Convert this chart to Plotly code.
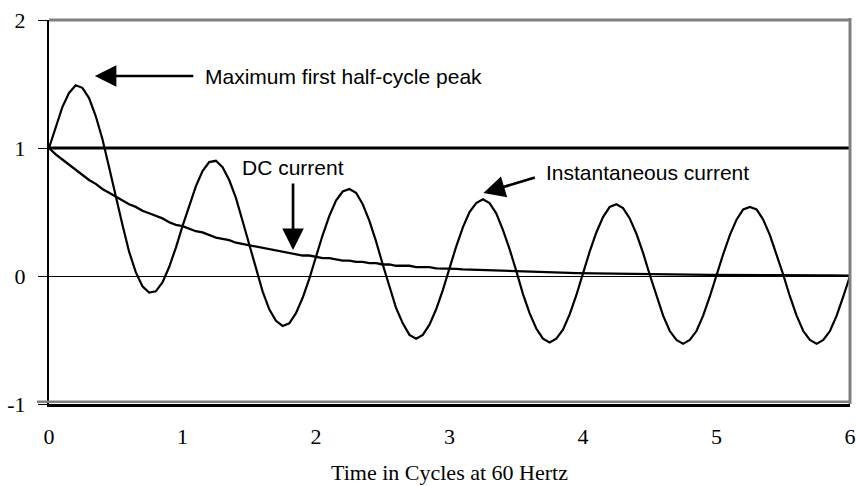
import plotly.graph_objects as go

# Time axis, in cycles (sampled every 1/20 cycle)
cycles = [round(k * 0.05, 2) for k in range(121)]

# Instantaneous current (per unit)
instantaneous = [
    1.00, 1.17, 1.32, 1.43, 1.49, 1.47, 1.39, 1.25, 1.07, 0.85,
    0.62, 0.40, 0.19, 0.03, -0.08, -0.13, -0.12, -0.05, 0.07, 0.22,
    0.39, 0.55, 0.70, 0.82, 0.89, 0.90, 0.85, 0.75, 0.61, 0.43,
    0.24, 0.05, -0.12, -0.26, -0.35, -0.39, -0.37, -0.29, -0.17, -0.02,
    0.15, 0.32, 0.47, 0.59, 0.66, 0.68, 0.65, 0.56, 0.43, 0.27,
    0.09, -0.09, -0.25, -0.37, -0.46, -0.49, -0.46, -0.38, -0.26, -0.11,
    0.06, 0.23, 0.38, 0.50, 0.57, 0.60, 0.57, 0.49, 0.36, 0.21,
    0.04, -0.14, -0.29, -0.41, -0.49, -0.52, -0.49, -0.42, -0.30, -0.15,
    0.02, 0.19, 0.34, 0.46, 0.54, 0.56, 0.53, 0.45, 0.33, 0.18,
    0.01, -0.15, -0.31, -0.43, -0.50, -0.53, -0.50, -0.43, -0.31, -0.16,
    0.01, 0.17, 0.32, 0.44, 0.52, 0.54, 0.52, 0.44, 0.32, 0.17,
    0.01, -0.16, -0.31, -0.43, -0.50, -0.53, -0.50, -0.43, -0.31, -0.16,
    0.00,
]

# DC offset component
dc_current = [
    1.00, 0.95, 0.91, 0.87, 0.83, 0.79, 0.75, 0.72, 0.68, 0.65,
    0.62, 0.59, 0.56, 0.54, 0.51, 0.49, 0.47, 0.45, 0.42, 0.40,
    0.39, 0.37, 0.35, 0.34, 0.32, 0.30, 0.29, 0.28, 0.26, 0.25,
    0.24, 0.23, 0.22, 0.21, 0.20, 0.19, 0.18, 0.17, 0.16, 0.16,
    0.15, 0.14, 0.14, 0.13, 0.12, 0.12, 0.11, 0.11, 0.10, 0.10,
    0.09, 0.09, 0.08, 0.08, 0.08, 0.07, 0.07, 0.07, 0.06, 0.06,
    0.06, 0.055, 0.052, 0.050, 0.048, 0.045, 0.043, 0.041, 0.039, 0.037,
    0.036, 0.034, 0.032, 0.031, 0.030, 0.028, 0.027, 0.026, 0.024, 0.023,
    0.022, 0.021, 0.020, 0.019, 0.018, 0.018, 0.017, 0.016, 0.015, 0.015,
    0.014, 0.013, 0.013, 0.012, 0.011, 0.011, 0.010, 0.010, 0.009, 0.009,
    0.009, 0.008, 0.008, 0.008, 0.007, 0.007, 0.007, 0.006, 0.006, 0.006,
    0.005, 0.005, 0.005, 0.005, 0.004, 0.004, 0.004, 0.004, 0.004, 0.004,
    0.003,
]

# Reference level at 1.0 per unit
ref_x = [0, 6]
ref_level = [1, 1]

x_ticks = [0, 1, 2, 3, 4, 5, 6]
y_ticks = [-1, 0, 1, 2]
y_tick_text = ["-1", "0", "1", "2"]

SANS = "Arial, Liberation Sans, sans-serif"
SERIF = "Times New Roman, Liberation Serif, serif"

fig = go.Figure()

fig.add_trace(go.Scatter(x=ref_x, y=ref_level, mode="lines",
                         line=dict(color="black", width=3.2), hoverinfo="skip"))
fig.add_trace(go.Scatter(x=cycles, y=dc_current, mode="lines", name="DC current",
                         line=dict(color="black", width=2.3)))
fig.add_trace(go.Scatter(x=cycles, y=instantaneous, mode="lines", name="Instantaneous current",
                         line=dict(color="black", width=2.2), cliponaxis=False))

# plot frame: grey top / right / bottom, like the original sheet chart
fig.add_shape(type="line", xref="paper", yref="paper", x0=0, x1=1, y0=1, y1=1,
              line=dict(color="#808080", width=3))
fig.add_shape(type="line", xref="paper", yref="paper", x0=1, x1=1, y0=0, y1=1.005,
              line=dict(color="#808080", width=3))
fig.add_shape(type="line", xref="paper", yref="y", x0=-0.015, x1=1, y0=-0.982, y1=-0.982,
              line=dict(color="#808080", width=2.5))

# callouts
arrow = dict(showarrow=True, arrowhead=2, arrowsize=1.6, arrowwidth=2.7,
             arrowcolor="black", standoff=0, startstandoff=0, text="")
fig.add_annotation(x=0.343, y=1.5625, ax=100, ay=0, **arrow)
fig.add_annotation(x=1.828, y=0.203, ax=0, ay=-68, **arrow)
fig.add_annotation(x=3.254, y=0.648, ax=53, ay=-16, **arrow)

label = dict(showarrow=False, xanchor="left", yanchor="middle",
             font=dict(family=SANS, size=21, color="black"))
fig.add_annotation(x=1.15, y=1.56, text="Maximum first half-cycle peak", **label)
fig.add_annotation(x=3.71, y=0.81, text="Instantaneous current", **label)
fig.add_annotation(x=1.828, y=0.85, text="DC current",
                   **{**label, "xanchor": "center"})

fig.update_layout(
    width=856, height=486,
    margin=dict(l=49, r=6, t=20, b=82, autoexpand=False),
    plot_bgcolor="white", paper_bgcolor="white",
    showlegend=False,
    font=dict(family=SERIF, size=22, color="black"),
)

fig.update_xaxes(
    range=[0, 6], tickvals=x_ticks, ticks="", ticklabelstandoff=11,
    automargin=False, ticklabeloverflow="allow",
    showgrid=False, zeroline=False,
    showline=True, linecolor="black", linewidth=3,
    title=dict(text="Time in Cycles at 60 Hertz", font=dict(family=SERIF, size=22), standoff=17),
    tickfont=dict(family=SERIF, size=22),
)
fig.update_yaxes(
    range=[-1, 2], tickvals=y_ticks, ticktext=y_tick_text,
    ticks="outside", ticklen=9, tickwidth=1, tickcolor="black",
    ticklabelstandoff=8, automargin=False, ticklabeloverflow="allow",
    showgrid=False, zeroline=True, zerolinecolor="black", zerolinewidth=1,
    showline=True, linecolor="black", linewidth=2,
    tickfont=dict(family=SERIF, size=22),
)

# drop the default page margin so the chart fills the window exactly
fig.write_html("out.html", config={"displayModeBar": False},
               post_script="document.body.style.margin='0';document.body.style.overflow='hidden';")
